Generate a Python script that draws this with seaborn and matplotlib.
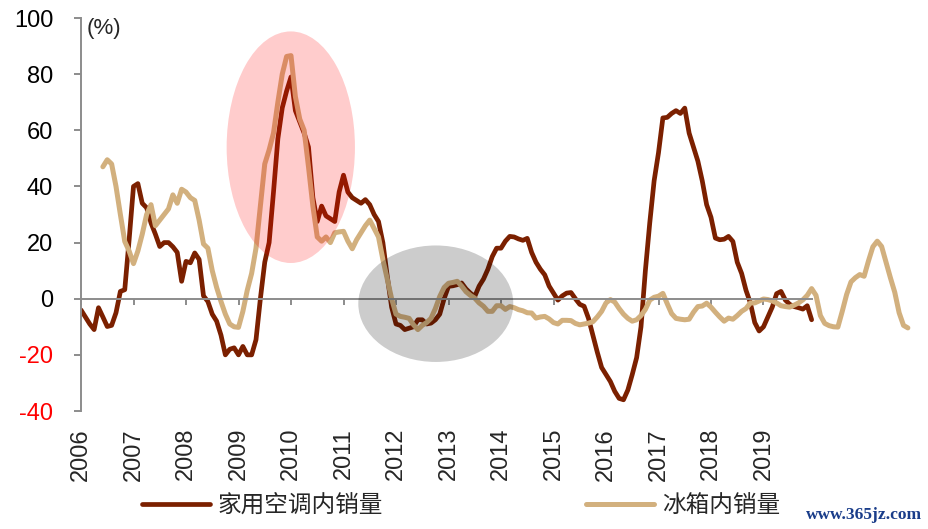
import numpy as np
import pandas as pd
import matplotlib
matplotlib.use("Agg")
import matplotlib.pyplot as plt
import seaborn as sns
from matplotlib.patches import Ellipse

# ---------------------------------------------------------
# data (monthly yoy %)
# ---------------------------------------------------------

ac_start = "2006-01-01"
ac_sales = [
    -4, -6.5, -9, -11, -3.2, -6.5, -9.9, -9.5, -5, 2.6, 3.2, 21,
    40, 41, 34, 32.4, 27, 23, 18.6, 20, 20, 18.5, 16.5, 6.2,
    13.3, 12.8, 16.3, 14, 1, -1, -5.5, -8, -13, -20, -18, -17.5,
    -20, -17, -20, -20, -14.6, 0, 13, 20, 38, 57, 68, 74,
    79, 67, 63, 59, 54, 36, 27.5, 33, 29.5, 28.5, 27.5, 38,
    44, 38, 36, 35, 34, 35.3, 33.5, 30, 27.5, 20, 8, -3,
    -9, -9.5, -11, -10.5, -10, -7.5, -7.5, -9, -8.7, -7.5, -5.5, 0,
    4.4, 4.6, 5, 5.6, 3.5, 2, 0.8, 4.5, 7, 10.5, 15, 18,
    18, 20.5, 22.2, 22, 21.3, 20.8, 21.5, 16.5, 13, 10.5, 8.5, 4.5,
    2, -0.5, 1, 2, 2.2, 0, -2, -2.7, -7, -13, -19, -24.5,
    -27, -29.5, -33, -35.5, -36, -32.5, -27, -21, -10, 10, 27, 42,
    52, 64.4, 64.6, 66, 67, 66, 67.9, 59, 54, 49, 42, 33.5,
    29, 21.6, 21, 21.2, 22.2, 20.4, 13, 9, 3, -1.5, -8.5, -11.5,
    -10, -6.5, -3, 1.8, 2.6, -0.5, -2, -2.8, -3.2, -3.7, -2.5, -7.5,
]

fridge_start = "2006-06-01"
fridge_sales = [
    47, 49.5, 48, 40, 30, 20.4, 17,
    12.5, 17, 23, 30, 33.5, 26, 28, 30, 32, 37, 34, 39,
    38, 36, 35, 28, 19.5, 18, 10, 4, -1, -5.5, -9, -10,
    -10.2, -4.5, 3, 9, 18, 33, 48, 53, 59, 70, 80, 86.3,
    86.6, 72, 64, 60, 47, 33, 22, 20.5, 22, 20, 23.5, 23.8,
    24, 20.5, 17.8, 21, 23.5, 26, 28, 25, 22, 14, 7, 0,
    -5.5, -6.3, -6.6, -7, -9.3, -11, -9.5, -8.5, -7, -3.5, 0.8, 4,
    5.5, 5.8, 6.2, 4.5, 2.5, 1.2, 0.2, -1.5, -2.7, -4.5, -4.5, -2.5,
    -2.5, -3.8, -2.8, -3.2, -3.9, -4.3, -5, -5.1, -6.9, -6.5, -6.3, -7.2,
    -8.5, -9, -7.7, -7.7, -7.8, -8.8, -9.3, -9, -8.7, -8.2, -6.5, -4.5,
    -1.5, -0.3, -1.2, -3.5, -5.5, -7, -8, -7.5, -6, -3.8, -0.5, 0.5,
    0.9, 1.9, -1.8, -5.3, -7, -7.3, -7.5, -7.3, -4.8, -2.8, -2.6, -1.6,
    -3, -4.8, -6.5, -8, -6.9, -7.3, -6, -4.5, -3.5, -1.5, -1.5, -0.8,
    -0.1, -0.3, -0.8, -1.5, -2.5, -2.8, -3, -2.3, -1.5, -0.4, 1.2, 3.6,
    1.2, -6, -8.8, -9.6, -10, -10.1, -4.5, 1.5, 6, 7.5, 8.6, 8,
    13.5, 18.5, 20.5, 18.6, 13, 7.5, 2.3, -5, -9.5, -10.4,
]

year_ticks = list(range(2006, 2020))
y_ticks = [-40, -20, 0, 20, 40, 60, 80, 100]

ac_name = "家用空调内销量"
fridge_name = "冰箱内销量"


def to_year(start, n):
    d = pd.date_range(start, periods=n, freq="MS")
    return d.year + (d.month - 1) / 12.0


df_ac = pd.DataFrame({"x": to_year(ac_start, len(ac_sales)), "y": ac_sales})
df_fr = pd.DataFrame({"x": to_year(fridge_start, len(fridge_sales)), "y": fridge_sales})

# ---------------------------------------------------------
# plot
# ---------------------------------------------------------

sns.set_style("white")
plt.rcParams["font.family"] = ["Liberation Sans", "Noto Sans CJK SC", "DejaVu Sans"]

fig = plt.figure(figsize=(9.29, 5.29), dpi=100)
ax = fig.add_axes([81 / 929, 118 / 529, (915 - 81) / 929, 393 / 529])

sns.lineplot(data=df_ac, x="x", y="y", color="#7B2000", lw=3.4, ax=ax, label=ac_name)
sns.lineplot(data=df_fr, x="x", y="y", color="#D2B07E", lw=3.6, ax=ax, label=fridge_name)

# highlight ellipses (drawn over the lines, like a multiply tint)
ax.add_patch(Ellipse((2009.996, 53.97), 2.444, 82.5, color="red", alpha=0.2, lw=0, zorder=5))
ax.add_patch(Ellipse((2012.758, -1.78), 2.952, 41.5, color="black", alpha=0.2, lw=0, zorder=5))

ax.set_xlim(2006, 2006 + (915 - 81) / 52.5)
ax.set_ylim(-40, 100)

for s in ["top", "right"]:
    ax.spines[s].set_visible(False)
ax.spines["left"].set_color("#8c8c8c")
ax.spines["left"].set_linewidth(1.4)
ax.spines["bottom"].set_position(("data", 0))
ax.spines["bottom"].set_bounds(2006, 2006 + 167 / 12 + 0.01)
ax.spines["bottom"].set_color("#8c8c8c")
ax.spines["bottom"].set_linewidth(1.4)

ax.set_yticks(y_ticks)
ax.set_yticklabels([str(v) for v in y_ticks])
for lab, v in zip(ax.get_yticklabels(), y_ticks):
    lab.set_color("red" if v < 0 else "black")
ax.tick_params(axis="y", direction="out", length=5, width=1.4, color="#8c8c8c",
               labelsize=17, pad=15, left=True)

ax.set_xticks(year_ticks)
ax.set_xticklabels([str(v) for v in year_ticks], rotation=90, va="top", ha="center")
ax.tick_params(axis="x", direction="out", length=4, width=1.4, color="#8c8c8c",
               labelsize=17, pad=89, bottom=True)

ax.set_xlabel("")
ax.set_ylabel("")
ax.grid(False)

ax.text(2006.11, 96.4, "(%)", fontsize=16, va="center", ha="left")

handles, labels = ax.get_legend_handles_labels()
ax.get_legend().remove()
fig.legend(handles, labels, loc="center left", bbox_to_anchor=(142 / 929, 1 - 506 / 529),
           ncol=2, frameon=False, fontsize=17, handlelength=2.9, handletextpad=0.3,
           columnspacing=8.6, borderpad=0, borderaxespad=0)

fig.text(922 / 929, 1 - 515 / 529, "www.365jz.com", color="#1A3D8A", fontsize=12.5,
         family="Liberation Serif", weight="bold", ha="right", va="center")

fig.savefig("out.png", dpi=100)
